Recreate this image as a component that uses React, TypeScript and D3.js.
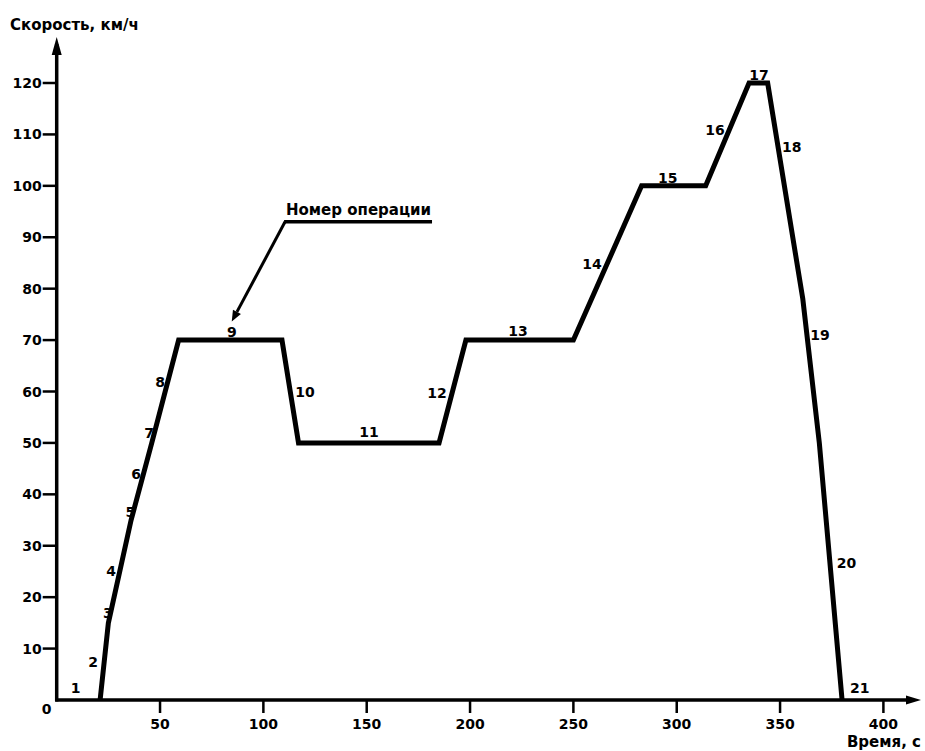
import React from "react";
import * as d3 from "d3";

// Drive cycle: time (s) vs speed (km/h)
const times = [0, 21, 25, 36, 46, 59, 109, 117, 185, 198, 250, 283, 314, 335, 344, 361, 369, 380, 400];
const speeds = [0, 0, 15, 35, 50, 70, 70, 50, 50, 70, 70, 100, 100, 120, 120, 78, 50, 0, 0];

// operation number labels (in data coords)
const opNumbers = ["1", "2", "3", "4", "5", "6", "7", "8", "9", "10", "11", "12", "13", "14", "15", "16", "17", "18", "19", "20", "21"];
const opLabelT = [9.2, 17.6, 24.8, 26.3, 35.7, 38.4, 44.7, 50, 84.7, 120.1, 151.1, 184, 223.2, 259, 295.7, 318.5, 339.8, 355.6, 369.3, 382.1, 388.6];
const opLabelV = [2.3, 7.4, 16.9, 25.1, 36.6, 44.0, 51.9, 61.9, 71.6, 60.0, 52.1, 59.8, 71.8, 84.8, 101.5, 110.9, 121.6, 107.6, 71.0, 26.6, 2.3];

const xTicks = [50, 100, 150, 200, 250, 300, 350, 400];
const yTicks = [10, 20, 30, 40, 50, 60, 70, 80, 90, 100, 110, 120];

const yTitle = "Скорость, км/ч";
const xTitle = "Время, с";
const annotationText = "Номер операции";

const W = 925;
const H = 751;
const FONT = "'DejaVu Sans', Verdana, sans-serif";
const FS = 14;
const FS_TITLE = 15;

export default function App() {
  const x = d3.scaleLinear().domain([0, 400]).range([56.7, 883.4]);
  const y = d3.scaleLinear().domain([0, 120]).range([700, 83]);

  const pts: [number, number][] = times.map((t, i) => [t, speeds[i]]);
  const line = d3
    .line<[number, number]>()
    .x((d) => x(d[0]))
    .y((d) => y(d[1]));
  // draw line only from start of movement to stop (idle lies on axis)
  const moving = pts.slice(1, pts.length - 1);

  const x0 = x(0);
  const y0 = y(0);

  // annotation geometry in data coords
  const annT0 = 110.5;
  const annT1 = 181.6;
  const annV = 93.0;
  const tipT = 84.7;
  const tipV = 73.6;
  const ax0 = x(annT0), ay0 = y(annV);
  const tx = x(tipT), ty = y(tipV);
  const ang = Math.atan2(ty - ay0, tx - ax0);
  const ah = 11, aw = 4.5;
  const bx = tx - ah * Math.cos(ang), by = ty - ah * Math.sin(ang);
  const arrowPts = [
    [tx, ty],
    [bx + aw * Math.sin(ang), by - aw * Math.cos(ang)],
    [bx - aw * Math.sin(ang), by + aw * Math.cos(ang)],
  ]
    .map((p) => p.join(","))
    .join(" ");

  return (
    <svg width={W} height={H} style={{ position: "absolute", left: 0, top: 0, background: "#fff" }} fontFamily={FONT}>
      <rect x={0} y={0} width={W} height={H} fill="#fff" />
      {/* Y axis */}
      <line x1={x0} y1={y0 + 1.5} x2={x0} y2={44} stroke="#000" strokeWidth={3.5} />
      <polygon points={`${x0},37 ${x0 - 5},55 ${x0 + 5},55`} fill="#000" />
      {/* X axis */}
      <line x1={x0 - 1.5} y1={y0} x2={912} y2={y0} stroke="#000" strokeWidth={3.5} />
      <polygon points={`921,${y0} 906,${y0 - 4.5} 906,${y0 + 4.5}`} fill="#000" />

      {yTicks.map((v) => (
        <g key={"yt" + v}>
          <line x1={x0 - 14} x2={x0} y1={y(v)} y2={y(v)} stroke="#000" strokeWidth={2.5} />
          <text x={x0 - 15} y={y(v)} textAnchor="end" dominantBaseline="central" fontSize={FS} fontWeight="bold">
            {v}
          </text>
        </g>
      ))}
      {xTicks.map((t) => (
        <g key={"xt" + t}>
          <line x1={x(t)} x2={x(t)} y1={y0} y2={y0 + 13} stroke="#000" strokeWidth={2.5} />
          <text x={x(t)} y={y0 + 24} textAnchor="middle" dominantBaseline="central" fontSize={FS} fontWeight="bold">
            {t}
          </text>
        </g>
      ))}
      <text x={x0 - 10} y={y0 + 9} textAnchor="middle" dominantBaseline="central" fontSize={FS} fontWeight="bold">
        0
      </text>

      <text x={10} y={25} dominantBaseline="central" fontSize={FS_TITLE} fontWeight="bold">
        {yTitle}
      </text>
      <text x={921} y={742} textAnchor="end" dominantBaseline="central" fontSize={FS_TITLE} fontWeight="bold">
        {xTitle}
      </text>

      {/* speed line */}
      <path d={line(moving) || ""} fill="none" stroke="#000" strokeWidth={5} strokeLinejoin="miter" />

      {/* op numbers */}
      {opNumbers.map((n, i) => (
        <text
          key={"op" + n}
          x={x(opLabelT[i])}
          y={y(opLabelV[i])}
          textAnchor="middle"
          dominantBaseline="central"
          fontSize={14}
          fontWeight="bold"
        >
          {n}
        </text>
      ))}

      {/* annotation */}
      <text x={(x(annT0) + x(annT1)) / 2} y={ay0 - 12} textAnchor="middle" dominantBaseline="central" fontSize={FS_TITLE} fontWeight="bold">
        {annotationText}
      </text>
      <line x1={ax0 - 1} y1={ay0} x2={x(annT1)} y2={ay0} stroke="#000" strokeWidth={3.5} />
      <line x1={ax0} y1={ay0} x2={bx} y2={by} stroke="#000" strokeWidth={3} />
      <polygon points={arrowPts} fill="#000" />
    </svg>
  );
}
